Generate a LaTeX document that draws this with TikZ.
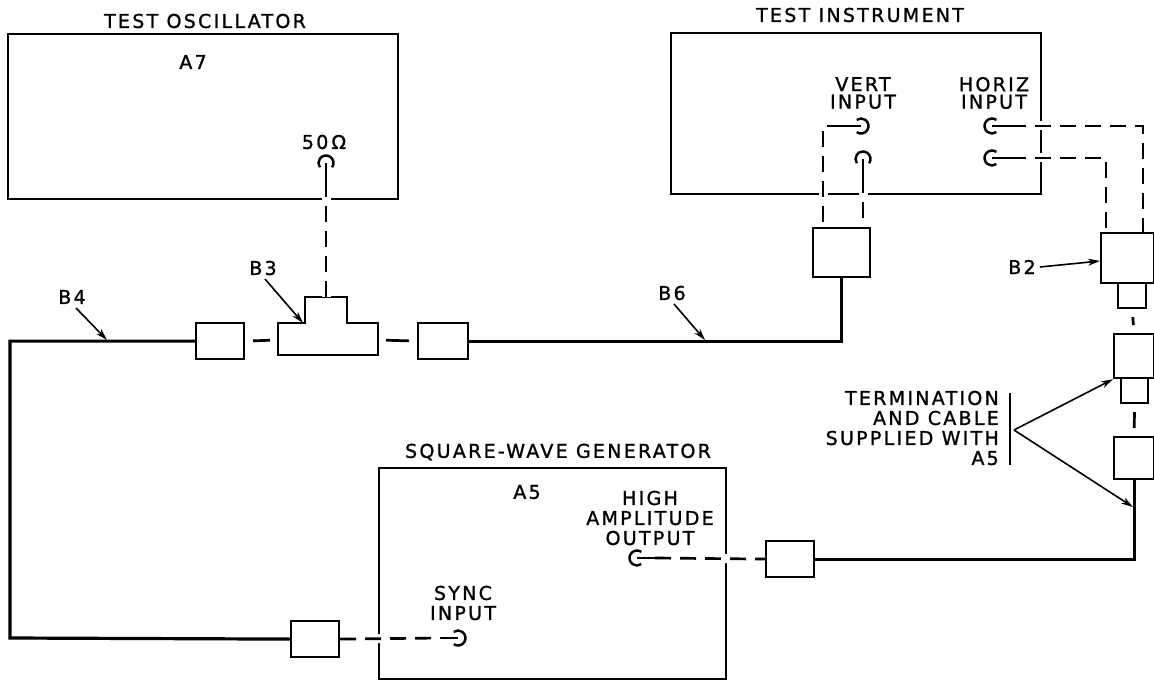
\documentclass[tikz,border=0pt]{standalone}
\usepackage{fontspec}
\setmainfont{DejaVu Sans}[LetterSpace=12, FakeBold=1.2]
\usetikzlibrary{arrows.meta}
\newcommand\jackat[3]{%
  \draw[jackline] ([shift={(#2+55:7.5pt)}]#1) arc[start angle=#2+55, end angle=#2+305, radius=7.5pt];
  \draw[jackline] (#1) -- ([shift={(#2:18pt)}]#1) coordinate (#3);}
\begin{document}
\begin{tikzpicture}[x=1pt,y=-1pt,
  unit/.style={draw, line width=2.2pt, inner sep=0pt, anchor=north west},
  part/.style={draw, line width=2.2pt, inner sep=0pt, anchor=north west, fill=white},
  cable/.style={line width=3.2pt, line join=miter},
  dashline/.style={line width=2.7pt, dash pattern=on 16pt off 9pt,
     preaction={draw=white, line width=9pt, solid}},
  shortdash/.style={line width=2.7pt, shorten <=8pt, shorten >=8pt},
  jackline/.style={line width=2.4pt},
  lbl/.style={font=\fontsize{19}{20}\selectfont, inner sep=0pt, align=center},
  tight/.style={font=\fontsize{19}{17.5}\selectfont},
  pointer/.style={line width=1.6pt, -{Stealth[length=12pt,width=7pt]}}]
\useasboundingbox (0,0) rectangle (1154,682);

% main units
\node[unit, minimum width=390pt, minimum height=165pt] (osc) at (7,33) {};
\node[unit, minimum width=370pt, minimum height=161pt] (inst) at (670,32) {};
\node[unit, minimum width=347pt, minimum height=211pt] (gen) at (378,467) {};

\node[lbl] (osctitle) at (205,21) {TEST OSCILLATOR};
\node[lbl] (a7) at (193,62) {A7};
\node[lbl] (ohm) at (324,142) {50\,Ω};
\node[lbl] (insttitle) at (860,15) {TEST INSTRUMENT};
\node[lbl, tight] (vertlbl) at (863,93) {VERT\\INPUT};
\node[lbl, tight] (horizlbl) at (994,93) {HORIZ\\INPUT};
\node[lbl] (gentitle) at (558,452) {SQUARE-WAVE GENERATOR};
\node[lbl] (a5) at (527,492) {A5};
\node[lbl] (hilbl) at (650,518) {HIGH\\AMPLITUDE\\OUTPUT};
\node[lbl] (synclbl) at (463,603) {SYNC\\INPUT};

% jack positions
\coordinate (jo) at (326,163);
\coordinate (jv1) at (861,126);
\coordinate (jv2) at (863,159);
\coordinate (jh1) at (992,126);
\coordinate (jh2) at (992,158);
\coordinate (jout) at (637,558);
\coordinate (jsync) at (458,638);
\jackat{jo}{-90}{jo-end}
\jackat{jv1}{180}{jv1-end}
\jackat{jv2}{-90}{jv2-end}
\jackat{jh1}{0}{jh1-end}
\jackat{jh2}{0}{jh2-end}
\jackat{jout}{0}{jout-end}
\jackat{jsync}{180}{jsync-end}

% parts
\node[part, minimum width=48pt, minimum height=36pt] (b4box) at (195,322) {};
\draw[line width=2.2pt, fill=white] (278,355) -- (278,323) -- (305,323) -- (305,297) -- (347,297)
   -- (347,323) -- (378,323) -- (378,355) -- cycle;
\coordinate (tw) at (278,340);
\coordinate (te) at (378,340);
\coordinate (tn) at (326,297);
\coordinate (tleftshoulder) at (303,323);
\node[part, minimum width=50pt, minimum height=36pt] (b6box) at (417,322) {};
\node[part, minimum width=57pt, minimum height=49pt] (vbox) at (812,227) {};
\node[part, minimum width=53pt, minimum height=50pt] (b2box) at (1100,232) {};
\node[part, minimum width=28pt, minimum height=25pt] (b2stub) at (1117,282) {};
\node[part, minimum width=40pt, minimum height=44pt] (tbox) at (1113,333) {};
\node[part, minimum width=27pt, minimum height=25pt] (tstub) at (1120,377) {};
\node[part, minimum width=40pt, minimum height=42pt] (cbox) at (1113,436) {};
\node[part, minimum width=48pt, minimum height=36pt] (obox) at (765,540) {};
\node[part, minimum width=48pt, minimum height=36pt] (sbox) at (290,620) {};

% dashed connections
\draw[dashline] (jo-end) -- (tn);
\draw[dashline] (jv1-end) -| (823,227);
\draw[dashline] (jv2-end) -- (863,227);
\draw[dashline] (jh1-end) -| (1143,232);
\draw[dashline] (jh2-end) -| (1106,232);
\draw[dashline] (jout-end) -- (obox.west);
\draw[dashline] (sbox.east) -- (jsync-end);
\draw[shortdash] (b4box.east) -- (tw);
\draw[shortdash] (te) -- (b6box.west);
\draw[shortdash] (b2stub.south) -- (tbox.north);
\draw[shortdash] (tstub.south) -- (cbox.north);

% cables
\draw[cable] (b4box.west) -| (10,638) -- (sbox.west);
\draw[cable] (b6box.east) -| (vbox.south);
\draw[cable] (cbox.south) |- (obox.east);

% pointers
\node[lbl] (b4lbl) at (72,297) {B4};
\draw[pointer] (76,308) -- (107,340);
\node[lbl] (b3lbl) at (263,268) {B3};
\draw[pointer] (265,279) -- (tleftshoulder);
\node[lbl] (b6lbl) at (672,293) {B6};
\draw[pointer] (674,304) -- (705,340);
\node[lbl] (b2lbl) at (1022,267) {B2};
\draw[pointer] (b2lbl.east) ++(4,0) -- (1100,261);
\node[lbl, align=right, anchor=east] (termlbl) at (999,428) {TERMINATION\\AND CABLE\\SUPPLIED WITH\\A5};
\draw[line width=1.6pt] (1010,393) -- (1010,465);
\coordinate (apex) at (1014,430);
\draw[pointer] (apex) -- (tbox.south west);
\draw[pointer] (apex) -- (1133,507);
\end{tikzpicture}
\end{document}
